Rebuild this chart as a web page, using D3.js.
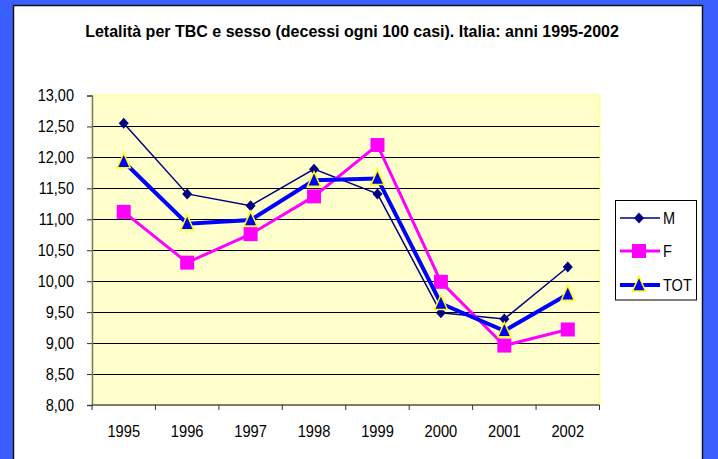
<!DOCTYPE html>
<html>
<head>
<meta charset="utf-8">
<script src="https://cdn.jsdelivr.net/npm/d3@7"></script>
<style>
  body { margin: 0; background: #3b5fff; }
  svg { display: block; font-family: "Liberation Sans", Arial, sans-serif; }
</style>
</head>
<body>
<div id="chart"></div>
<script>
// Data
const years = ["1995", "1996", "1997", "1998", "1999", "2000", "2001", "2002"];
const maschi = [12.55, 11.41, 11.22, 11.81, 11.41, 9.49, 9.39, 10.23];
const femmine = [11.12, 10.30, 10.76, 11.37, 12.20, 9.99, 8.96, 9.22];
const totale = [11.93, 10.93, 10.99, 11.63, 11.66, 9.64, 9.20, 9.79];
const yTicks = [8, 8.5, 9, 9.5, 10, 10.5, 11, 11.5, 12, 12.5, 13];

const series = [
    { name: "M", values: maschi, color: "#000080", width: 1.5, marker: "diamond" },
    { name: "F", values: femmine, color: "#ff00ff", width: 3, marker: "square" },
    { name: "TOT", values: totale, color: "#0000ff", width: 4, marker: "triangle" }
];

const W = 718, H = 459;
const plot = { left: 92, top: 95.5, right: 599.5, bottom: 405 };

const svg = d3.select("#chart").append("svg")
    .attr("width", W)
    .attr("height", H);

// Excel text is a bit squeezed sideways, mimic it
function squeeze(sel, k) {
    sel.each(function() {
        const len = this.getComputedTextLength();
        d3.select(this).attr("textLength", len * k).attr("lengthAdjust", "spacingAndGlyphs");
    });
}

// white panel with dark edge
svg.append("rect")
    .attr("x", 13.5).attr("y", 5.5)
    .attr("width", 689).attr("height", 470)
    .attr("fill", "#fff")
    .attr("stroke", "#111")
    .attr("stroke-width", 1.5);

svg.append("text")
    .attr("x", 352).attr("y", 37)
    .attr("text-anchor", "middle")
    .style("font-size", "16.5px")
    .style("font-weight", "bold")
    .text("Letalità per TBC e sesso (decessi ogni 100 casi). Italia: anni 1995-2002")
    .call(squeeze, 0.97);

const x = d3.scaleBand().domain(years).range([plot.left, plot.right]);
const y = d3.scaleLinear().domain([8, 13]).range([plot.bottom, plot.top]);
const fmt = d => d.toFixed(2).replace(".", ",");

// plot background
svg.append("rect")
    .attr("x", plot.left).attr("y", plot.top)
    .attr("width", plot.right - plot.left).attr("height", plot.bottom - plot.top)
    .attr("fill", "#ffffcc")
    .attr("stroke", "#ffff99")
    .attr("stroke-width", 2);

// gridlines
svg.append("g").selectAll("line")
    .data(yTicks.slice(1, -1))
    .join("line")
    .attr("x1", plot.left).attr("x2", plot.right)
    .attr("y1", d => Math.round(y(d)) + 0.5).attr("y2", d => Math.round(y(d)) + 0.5)
    .attr("stroke", "#000")
    .attr("stroke-width", 1);

// y axis
const yAxis = svg.append("g")
    .attr("transform", `translate(${plot.left},0)`)
    .call(d3.axisLeft(y).tickValues(yTicks).tickFormat(fmt).tickSize(5).tickPadding(13));
yAxis.select(".domain").attr("stroke", "#777").attr("stroke-width", 1.5);
yAxis.selectAll(".tick line").attr("stroke", "#333");
yAxis.selectAll("text").style("font-size", "16.5px").attr("fill", "#000").call(squeeze, 0.88);

// x axis: ticks at category boundaries
const xAxis = svg.append("g")
    .attr("transform", `translate(0,${plot.bottom})`);
xAxis.append("line")
    .attr("x1", plot.left).attr("x2", plot.right)
    .attr("stroke", "#555").attr("stroke-width", 1.5);
xAxis.selectAll(".bt")
    .data(years.concat(["end"]))
    .join("line")
    .attr("class", "bt")
    .attr("x1", (d, i) => i < years.length ? x(d) : plot.right)
    .attr("x2", (d, i) => i < years.length ? x(d) : plot.right)
    .attr("y1", 0).attr("y2", 5)
    .attr("stroke", "#333");
xAxis.selectAll(".lbl")
    .data(years)
    .join("text")
    .attr("class", "lbl")
    .attr("x", d => x(d) + x.bandwidth() / 2)
    .attr("y", 32)
    .attr("text-anchor", "middle")
    .style("font-size", "16.5px")
    .text(d => d)
    .call(squeeze, 0.89);

// markers
function drawMarker(sel, type, color) {
    if (type === "diamond") {
        sel.append("path").attr("d", "M0,-5.5L5,0L0,5.5L-5,0Z").attr("fill", color);
    } else if (type === "square") {
        sel.append("rect").attr("x", -7).attr("y", -7).attr("width", 14).attr("height", 14).attr("fill", color);
    } else {
        sel.append("path").attr("d", "M0,-8.5L6.5,6L-6.5,6Z")
            .attr("fill", "#0000ff").attr("stroke", "#ffff00").attr("stroke-width", 1.5);
    }
}

const line = d3.line()
    .x((d, i) => x(years[i]) + x.bandwidth() / 2)
    .y(d => y(d));

series.forEach(s => {
    svg.append("path")
        .attr("d", line(s.values))
        .attr("fill", "none")
        .attr("stroke", s.color)
        .attr("stroke-width", s.width);
    s.values.forEach((v, i) => {
        const g = svg.append("g")
            .attr("transform", `translate(${x(years[i]) + x.bandwidth() / 2},${y(v)})`);
        drawMarker(g, s.marker, s.color);
    });
});

// legend
const legend = svg.append("g");
legend.append("rect")
    .attr("x", 615.5).attr("y", 200.5)
    .attr("width", 81).attr("height", 99.5)
    .attr("fill", "#fff").attr("stroke", "#000");
const legY = [218, 251, 285];
series.forEach((s, i) => {
    const row = legend.append("g").attr("transform", `translate(0,${legY[i]})`);
    row.append("line")
        .attr("x1", 620).attr("x2", 660)
        .attr("stroke", s.color).attr("stroke-width", s.width);
    const m = row.append("g").attr("transform", "translate(639,0)");
    drawMarker(m, s.marker, s.color);
    row.append("text")
        .attr("x", 663).attr("y", 6)
        .style("font-size", "16.5px")
        .text(s.name)
        .call(squeeze, 0.88);
});
</script>
</body>
</html>
